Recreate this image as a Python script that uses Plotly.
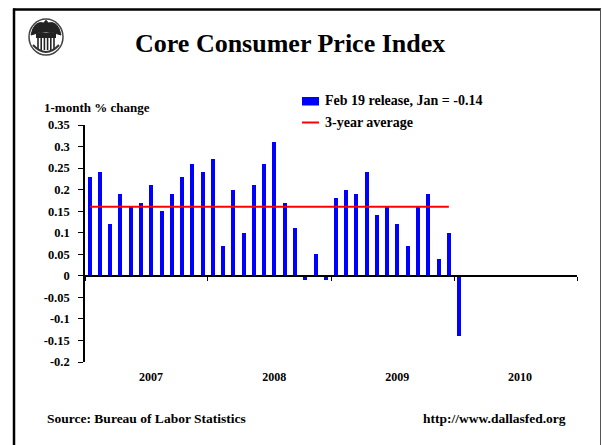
import pandas as pd
import plotly.graph_objects as go

# Core CPI, 1-month % change, Jan 2007 - Jan 2010
months = pd.date_range("2007-01-01", periods=37, freq="MS")
core_cpi = [0.23, 0.24, 0.12, 0.19, 0.16, 0.17, 0.21, 0.15, 0.19, 0.23, 0.26, 0.24,
            0.27, 0.07, 0.20, 0.10, 0.21, 0.26, 0.31, 0.17, 0.11, -0.01, 0.05, -0.01,
            0.18, 0.20, 0.19, 0.24, 0.14, 0.16, 0.12, 0.07, 0.16, 0.19, 0.04, 0.10,
            -0.14]
three_year_avg = 0.16
year_labels = ["2007", "2008", "2009", "2010"]
year_label_pos = ["2007-07-16", "2008-07-16", "2009-07-16", "2010-07-16"]
year_bounds = ["2007-01-01", "2008-01-01", "2009-01-01", "2010-01-01", "2011-01-01"]
y_ticks = [0.35, 0.3, 0.25, 0.2, 0.15, 0.1, 0.05, 0, -0.05, -0.1, -0.15, -0.2]
y_ticktext = ["0.35", "0.3", "0.25", "0.2", "0.15", "0.1", "0.05", "0",
              "-0.05", "-0.1", "-0.15", "-0.2"]

W, H = 602, 445
L, R, T, B = 85, 25, 125, 83
PW, PH = W - L - R, H - T - B
Y_MIN, Y_MAX = -0.2, 0.35
X_RANGE = ["2007-01-01", "2011-01-01"]
SERIF = "Liberation Serif"


def px(x):
    return (x - L) / PW


def py(y):
    return (H - B - y) / PH


fig = go.Figure()

fig.add_trace(go.Bar(
    x=months, y=core_cpi, xperiod="M1", xperiodalignment="middle",
    width=12 * 86400000, marker=dict(color="#0000FF", line=dict(width=0)),
    name="Feb 19 release, Jan = -0.14", showlegend=False,
))

fig.add_trace(go.Scatter(
    x=months[:36], y=[three_year_avg] * 36, xperiod="M1", xperiodalignment="middle",
    mode="lines", line=dict(color="#FF0000", width=2),
    name="3-year average", showlegend=False,
))

# carrier trace for the axis drawn along zero
fig.add_trace(go.Scatter(x=[], y=[], xaxis="x2", showlegend=False, hoverinfo="skip"))

shapes = []
# page frame
shapes.append(dict(type="line", xref="paper", yref="paper", x0=px(14), x1=px(14),
                   y0=py(8.5), y1=py(446), line=dict(color="black", width=2.5)))
shapes.append(dict(type="line", xref="paper", yref="paper", x0=px(13), x1=px(601),
                   y0=py(9.5), y1=py(9.5), line=dict(color="black", width=2.5)))
shapes.append(dict(type="line", xref="paper", yref="paper", x0=px(600.5), x1=px(600.5),
                   y0=py(9), y1=py(446), line=dict(color="#555555", width=1)))

# seal emblem
cx, cy = 46, 37
shapes.append(dict(type="circle", xref="paper", yref="paper",
                   x0=px(cx - 17), x1=px(cx + 17), y0=py(cy + 18), y1=py(cy - 18),
                   line=dict(color="#444444", width=1.5), fillcolor="rgba(0,0,0,0)"))
eagle = "M {} {} Q {} {} {} {} Q {} {} {} {} Q {} {} {} {} Q {} {} {} {} Z".format(
    px(cx - 15), py(cy - 2),
    px(cx - 12), py(cy - 17), px(cx - 2), py(cy - 14),
    px(cx), py(cy - 19), px(cx + 2), py(cy - 14),
    px(cx + 12), py(cy - 17), px(cx + 15), py(cy - 2),
    px(cx), py(cy - 8), px(cx - 15), py(cy - 2))
shapes.append(dict(type="path", xref="paper", yref="paper", path=eagle,
                   fillcolor="#222222", line=dict(color="#222222", width=1)))
shapes.append(dict(type="rect", xref="paper", yref="paper",
                   x0=px(cx - 10), x1=px(cx + 10), y0=py(cy + 1), y1=py(cy - 4),
                   fillcolor="#222222", line=dict(width=0)))
for i in range(6):
    xx = cx - 8 + i * 3.2
    shapes.append(dict(type="line", xref="paper", yref="paper",
                       x0=px(xx), x1=px(xx), y0=py(cy + 13), y1=py(cy + 1),
                       line=dict(color="#222222", width=1.6)))
shapes.append(dict(type="path", xref="paper", yref="paper",
                   path="M {} {} Q {} {} {} {}".format(px(cx - 13), py(cy + 8),
                                                       px(cx), py(cy + 22),
                                                       px(cx + 13), py(cy + 8)),
                   line=dict(color="#333333", width=2)))

# legend
shapes.append(dict(type="rect", xref="paper", yref="paper",
                   x0=px(302), x1=px(319), y0=py(105.5), y1=py(97),
                   fillcolor="#0000FF", line=dict(width=0)))
shapes.append(dict(type="line", xref="paper", yref="paper",
                   x0=px(302), x1=px(319), y0=py(122.5), y1=py(122.5),
                   line=dict(color="#FF0000", width=2)))

bold = dict(family=SERIF, color="black", weight="bold")
annotations = [
    dict(text="Core Consumer Price Index", x=px(290), y=py(43),
         font=dict(bold, size=26)),
    dict(text="1-month % change", x=px(42), y=py(107), xanchor="left",
         font=dict(bold, size=13)),
    dict(text="Feb 19 release, Jan = -0.14", x=px(323), y=py(101), xanchor="left",
         font=dict(bold, size=14)),
    dict(text="3-year average", x=px(323), y=py(122.5), xanchor="left",
         font=dict(bold, size=14)),
    dict(text="Source: Bureau of Labor Statistics", x=px(45), y=py(418), xanchor="left",
         font=dict(bold, size=13.5)),
    dict(text="http://www.dallasfed.org", x=px(568), y=py(418), xanchor="right",
         font=dict(bold, size=13.5)),
]
for a in annotations:
    a.update(xref="paper", yref="paper", showarrow=False, yanchor="middle")
    a.setdefault("xanchor", "center")

fig.update_layout(
    width=W, height=H,
    margin=dict(l=L, r=R, t=T, b=B, pad=0),
    paper_bgcolor="white", plot_bgcolor="white",
    showlegend=False,
    bargap=0,
    shapes=shapes,
    annotations=annotations,
    xaxis=dict(
        type="date", range=X_RANGE, showline=False, showgrid=False, zeroline=False,
        tickmode="array", tickvals=year_label_pos, ticktext=year_labels,
        ticks="", tickfont=dict(bold, size=12), ticklabelstandoff=6,
    ),
    xaxis2=dict(
        type="date", range=X_RANGE, overlaying="x", anchor="free",
        position=(0 - Y_MIN) / (Y_MAX - Y_MIN), side="bottom",
        showline=True, linecolor="black", linewidth=1.5, showgrid=False,
        tickmode="array", tickvals=year_bounds, showticklabels=False,
        ticks="outside", ticklen=4, tickwidth=1, tickcolor="black",
    ),
    yaxis=dict(
        range=[Y_MIN, Y_MAX], showline=True, linecolor="black", linewidth=1.5,
        showgrid=False, zeroline=False,
        tickmode="array", tickvals=y_ticks, ticktext=y_ticktext,
        ticks="outside", ticklen=5, tickwidth=1, tickcolor="black",
        tickfont=dict(bold, size=12.5), ticklabelstandoff=6,
    ),
)

fig.write_html("out.html")
